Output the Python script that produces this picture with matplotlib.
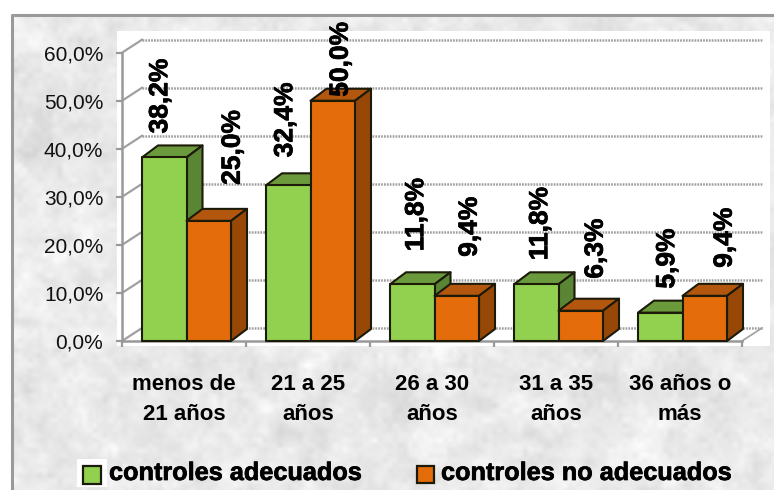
#!/usr/bin/env python3
import matplotlib
matplotlib.use("Agg")
import matplotlib.patheffects as pe
import matplotlib.pyplot as plt
from matplotlib.patches import Polygon, Rectangle
from matplotlib.ticker import FixedLocator, FuncFormatter
import numpy as np

categories = ["menos de\n21 años", "21 a 25\naños", "26 a 30\naños", "31 a 35\naños", "36 años o\nmás"]
series_names = ["controles adecuados", "controles no adecuados"]
adecuados = [38.2, 32.4, 11.8, 11.8, 5.9]
no_adecuados = [25.0, 50.0, 9.4, 6.3, 9.4]

# label nudges in pixels, the original places them by hand
nudge_a = [-4, -3, 4, 4, 7]
nudge_b = [24, 8, 13, 15, 20]
lift_a = [0, 4, 9, 0, 0]
lift_b = [12, -20, 15, 8, 4]

W, H = 774, 490
GREEN = ("#92D050", "#6B9A3C", "#5A8534")
ORANGE = ("#E46C0A", "#B4570E", "#974706")
EDGE = "#1C1A08"
GRID = "#A0A0A0"
HEAVY = [pe.withStroke(linewidth=0.5, foreground="black")]

plt.rcParams["font.family"] = ["Liberation Sans", "DejaVu Sans"]

fig = plt.figure(figsize=(W / 100, H / 100), dpi=100)


def px_box(x0, y0, x1, y1):
    return [x0 / W, 1 - y1 / H, (x1 - x0) / W, (y1 - y0) / H]


# mottled paper background
rng = np.random.default_rng(3)
noise = np.zeros((H, W))
for step, amp in [(40, 1.0), (14, 1.0), (5, 0.7)]:
    coarse = rng.normal(size=(H // step + 2, W // step + 2))
    xs = np.arange(W) / step
    ys = np.arange(H) / step
    rows = np.array([np.interp(xs, np.arange(coarse.shape[1]), r) for r in coarse])
    noise += amp * np.array([np.interp(ys, np.arange(rows.shape[0]), c) for c in rows.T]).T
bg = fig.add_axes([0, 0, 1, 1], zorder=0)
bg.imshow(np.clip(0.915 + 0.02 * noise, 0, 1), cmap="gray", vmin=0, vmax=1, aspect="auto")
bg.add_patch(Rectangle((0, 0), W, 14, fc="white", lw=0))
bg.add_patch(Rectangle((0, 0), 11, H, fc="white", lw=0))
bg.plot([12, 12, W], [H, 15, 15], color="#9A9A9A", lw=2.2)
bg.add_patch(Rectangle((117, 31), 653, 315, fc="white", lw=0))
bg.add_patch(Rectangle((77, 459), 30, 28, fc="white", lw=0))
bg.set_xlim(0, W)
bg.set_ylim(H, 0)
bg.axis("off")

# front plane of the chart: x in categories, y in percent
ax = fig.add_axes(px_box(122, 52.7, 742, 341), zorder=1)
ax.patch.set_alpha(0)
ax.set_xlim(0, 5)
ax.set_ylim(0, 60)

px_x = 5 / 620
px_y = 60 / 288.3
depth_x = 20 * px_x
depth_y = 13 * px_y
bar_dx = 16 * px_x
bar_dy = 12 * px_y
bar_w = 44.5 * px_x
bar_off = 20 * px_x

ticks = np.arange(0, 61, 10)
for t in ticks:
    ax.plot([0, depth_x], [t, t + depth_y], color=GRID, lw=1.6, clip_on=False, zorder=1)
    ax.plot([depth_x, 5.17], [t + depth_y, t + depth_y], color=GRID, lw=1.8, ls=(0, (0.7, 0.45)),
            clip_on=False, zorder=1)
ax.plot([5, 5 + depth_x], [0, depth_y], color=GRID, lw=1.2, clip_on=False, zorder=1)


def draw_bar(x, v, colors, z):
    front, top, side = colors
    d = dict(ec=EDGE, lw=1.5, joinstyle="round", clip_on=False, zorder=z)
    ax.add_patch(Polygon([(x, v), (x + bar_w, v), (x + bar_w + bar_dx, v + bar_dy), (x + bar_dx, v + bar_dy)],
                         fc=top, **d))
    ax.add_patch(Polygon([(x + bar_w, 0), (x + bar_w + bar_dx, bar_dy), (x + bar_w + bar_dx, v + bar_dy),
                          (x + bar_w, v)], fc=side, **d))
    ax.add_patch(Rectangle((x, 0), bar_w, v, fc=front, **d))


for i, (a, b) in enumerate(zip(adecuados, no_adecuados)):
    x0 = i + bar_off
    draw_bar(x0, a, GREEN, 3)
    draw_bar(x0 + bar_w, b, ORANGE, 4)
    for x, v, nudge, lift in [(x0, a, nudge_a[i], lift_a[i]), (x0 + bar_w, b, nudge_b[i], lift_b[i])]:
        ax.text(x + bar_w / 2 + nudge * px_x, v + bar_dy + (12 + lift) * px_y, f"{v:.1f}%".replace(".", ","),
                rotation=90, ha="center", va="bottom", fontsize=19, fontweight="bold", color="black", zorder=5,
                path_effects=HEAVY)

for side in ("top", "right"):
    ax.spines[side].set_visible(False)
for side in ("left", "bottom"):
    ax.spines[side].set_color("#999999")
    ax.spines[side].set_linewidth(1.8)

ax.yaxis.set_major_locator(FixedLocator(ticks))
ax.yaxis.set_major_formatter(FuncFormatter(lambda v, _: f"{v:.1f}%".replace(".", ",")))
ax.tick_params(axis="y", length=4.5, width=1.6, color="#999999", labelsize=15, pad=9, labelcolor="#111111")

ax.set_xticks(np.arange(6))
ax.set_xticklabels([])
ax.tick_params(axis="x", which="major", length=4.5, width=1.6, color="#999999")
ax.set_xticks(np.arange(5) + 0.5, minor=True)
ax.set_xticklabels(categories, minor=True, fontsize=16, fontweight="bold", linespacing=1.55)
ax.tick_params(axis="x", which="minor", length=0, pad=24)

# legend
for (sx, sy, sw), colors, name, tx in [((83, 466, 18), GREEN, series_names[0], 109),
                                       ((417, 466, 17), ORANGE, series_names[1], 441)]:
    fig.add_artist(Rectangle((sx / W, 1 - (sy + sw) / H), sw / W, sw / H, transform=fig.transFigure,
                             fc=colors[0], ec=EDGE, lw=1.6))
    fig.text(tx / W, 1 - 473 / H, name, fontsize=18.2, fontweight="bold", va="center", ha="left", color="black",
             path_effects=HEAVY)

fig.savefig("out.png", dpi=100)
